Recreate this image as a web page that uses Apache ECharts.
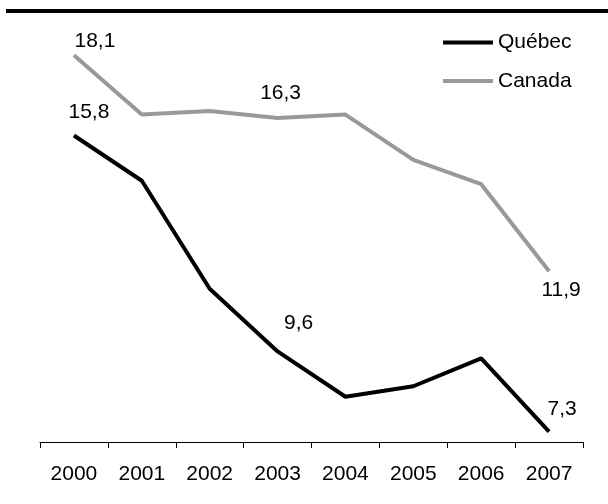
<!DOCTYPE html>
<html>
<head>
<meta charset="utf-8">
<script src="https://cdn.jsdelivr.net/npm/echarts@6/dist/echarts.min.js"></script>
<style>
html,body{margin:0;padding:0;background:#fff;}
#c{width:608px;height:504px;}
</style>
</head>
<body>
<div id="c"></div>
<script>
var years = ['2000','2001','2002','2003','2004','2005','2006','2007'];
var quebec = [15.8, 14.5, 11.4, 9.6, 8.3, 8.6, 9.4, 7.3];
var canada = [18.1, 16.4, 16.5, 16.3, 16.4, 15.1, 14.4, 11.9];
// indices of points carrying a value label, with label offsets
var quebecLabels = {0: [15, -23], 3: [21, -28], 7: [13, -22]};
var canadaLabels = {0: [21, -14], 3: [3, -25], 7: [12, 19]};

var FONT = '"Liberation Sans", Arial, sans-serif';

function build(vals, labels) {
  return vals.map(function (v, i) {
    var item = { value: v };
    if (labels[i]) {
      item.label = {
        show: true,
        position: 'inside',
        offset: labels[i],
        formatter: function (p) { return String(p.value).replace('.', ','); },
        color: '#000',
        fontSize: 21,
        fontFamily: FONT
      };
    }
    return item;
  });
}

var chart = echarts.init(document.getElementById('c'), null, {renderer: 'canvas'});
chart.setOption({
  animation: false,
  backgroundColor: '#fff',
  textStyle: { fontFamily: FONT },
  graphic: [{
    type: 'rect',
    shape: { x: 6, y: 9, width: 602, height: 4 },
    style: { fill: '#000' }
  }],
  legend: {
    orient: 'vertical',
    left: 443,
    top: 32,
    padding: 0,
    itemWidth: 50,
    itemHeight: 4,
    itemGap: 17.5,
    icon: 'rect',
    textStyle: { fontSize: 21, color: '#000', fontFamily: FONT },
    data: ['Québec', 'Canada']
  },
  grid: { left: 40, right: 25, top: 24, bottom: 62, containLabel: false },
  xAxis: {
    type: 'category',
    data: years,
    boundaryGap: true,
    axisLine: { show: true, lineStyle: { color: '#000', width: 1 } },
    axisTick: { show: true, length: 6, lineStyle: { color: '#000' } },
    axisLabel: { color: '#000', fontSize: 21, fontFamily: FONT, margin: 22 }
  },
  yAxis: {
    type: 'value',
    min: 7,
    max: 19,
    show: false,
    splitLine: { show: false }
  },
  series: [
    {
      name: 'Québec',
      type: 'line',
      data: build(quebec, quebecLabels),
      symbol: 'circle',
      symbolSize: 0.1,
      showSymbol: true,
      lineStyle: { color: '#000', width: 4 },
      itemStyle: { color: '#000' },
      z: 3
    },
    {
      name: 'Canada',
      type: 'line',
      data: build(canada, canadaLabels),
      symbol: 'circle',
      symbolSize: 0.1,
      showSymbol: true,
      lineStyle: { color: '#999999', width: 4 },
      itemStyle: { color: '#999999' },
      z: 2
    }
  ]
});
</script>
</body>
</html>
